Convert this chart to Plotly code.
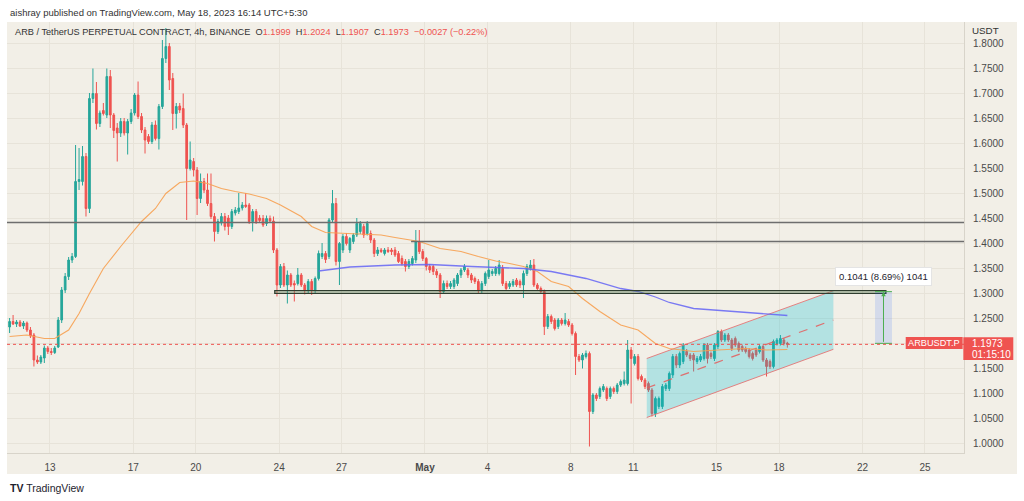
import pandas as pd
import plotly.graph_objects as go

# ---------------- DATA ----------------
last_candle = "2023-05-18 09:30"   # 4h candles, UTC+5:30

opens = [
    # Apr 11 - Apr 16
    1.232,1.243,1.238,1.242,1.234,1.240,1.226,1.216,1.166,1.162,1.170,1.190,1.183,1.181,1.192,1.246,1.306,1.333,1.366,1.373,
    1.523,1.523,1.573,1.469,1.689,1.699,1.639,1.665,1.656,1.733,1.656,1.630,1.620,1.643,1.620,1.643,1.660,
    # Apr 17 - Apr 22
    1.696,1.653,1.626,1.613,1.603,1.636,1.609,1.673,1.769,1.793,1.729,1.659,1.674,1.669,1.636,1.549,1.563,1.546,1.489,1.523,
    1.506,1.479,1.453,1.423,1.440,1.453,1.450,1.433,1.460,1.463,1.470,1.476,1.476,1.443,1.463,1.450,1.449,
    # Apr 23 - Apr 28
    1.439,1.449,1.444,1.386,1.316,1.353,1.316,1.336,1.319,1.319,1.336,1.316,1.306,1.323,1.306,1.329,1.373,1.379,1.373,1.446,
    1.479,1.363,1.386,1.413,1.386,1.403,1.416,1.423,1.433,1.419,1.419,1.406,1.379,1.386,1.379,1.386,1.386,
    # Apr 29 - May 5
    1.386,1.379,1.369,1.363,1.353,1.359,1.366,1.403,1.383,1.369,1.353,1.353,1.343,1.336,1.303,1.319,1.313,1.313,1.319,1.336,
    1.346,1.346,1.336,1.329,1.323,1.306,1.319,1.333,1.339,1.339,1.339,1.349,1.319,1.313,1.316,1.326,1.323,
    # May 5 - May 11
    1.316,1.339,1.349,1.356,1.316,1.309,1.303,1.233,1.253,1.246,1.233,1.246,1.239,1.243,1.236,1.219,1.173,1.166,1.173,1.179,
    1.063,1.096,1.093,1.106,1.109,1.093,1.109,1.103,1.116,1.119,1.119,1.186,1.159,1.173,1.133,1.126,1.119,
    # May 11 - May 18
    1.106,1.059,1.073,1.073,1.109,1.109,1.136,1.173,1.156,1.163,1.183,1.176,1.176,1.163,1.166,1.169,1.196,1.179,1.169,1.193,
    1.223,1.206,1.216,1.206,1.209,1.199,1.193,1.189,1.186,1.179,1.186,1.183,1.193,1.166,1.163,1.153,1.199,1.199,1.206,1.1999,
]
highs = [
    1.250,1.256,1.246,1.246,1.244,1.243,1.232,1.220,1.175,1.176,1.195,1.194,1.190,1.194,1.252,1.312,1.340,1.372,1.380,1.596,
    1.590,1.594,1.580,1.700,1.749,1.722,1.665,1.680,1.749,1.746,1.660,1.640,1.650,1.650,1.648,1.668,1.700,
    1.723,1.660,1.632,1.618,1.642,1.645,1.678,1.806,1.830,1.800,1.740,1.680,1.680,1.699,1.640,1.603,1.570,1.552,1.539,1.530,
    1.539,1.539,1.460,1.448,1.460,1.460,1.456,1.468,1.472,1.500,1.482,1.500,1.480,1.468,1.468,1.456,1.456,
    1.455,1.455,1.453,1.390,1.358,1.360,1.345,1.340,1.325,1.350,1.340,1.320,1.328,1.328,1.333,1.385,1.400,1.384,1.450,1.506,
    1.490,1.402,1.418,1.420,1.412,1.420,1.450,1.444,1.438,1.444,1.425,1.410,1.392,1.390,1.390,1.392,1.390,
    1.392,1.384,1.375,1.368,1.368,1.374,1.426,1.426,1.388,1.372,1.358,1.356,1.348,1.340,1.325,1.325,1.324,1.330,1.340,1.350,
    1.358,1.350,1.340,1.333,1.328,1.324,1.343,1.366,1.348,1.354,1.366,1.356,1.324,1.324,1.328,1.330,1.327,
    1.345,1.358,1.366,1.368,1.320,1.313,1.307,1.258,1.257,1.250,1.250,1.250,1.260,1.248,1.240,1.223,1.178,1.180,1.185,1.183,
    1.100,1.100,1.113,1.118,1.113,1.113,1.113,1.120,1.127,1.143,1.206,1.192,1.178,1.178,1.137,1.130,1.123,
    1.110,1.093,1.093,1.118,1.120,1.143,1.178,1.178,1.183,1.200,1.188,1.180,1.180,1.174,1.178,1.200,1.200,1.183,1.200,1.226,
    1.227,1.220,1.220,1.210,1.213,1.203,1.197,1.193,1.190,1.183,1.190,1.197,1.197,1.170,1.167,1.207,1.210,1.216,1.210,1.2024,
]
lows = [
    1.220,1.236,1.232,1.232,1.228,1.222,1.210,1.153,1.158,1.158,1.160,1.178,1.176,1.178,1.190,1.240,1.300,1.326,1.360,1.370,
    1.506,1.515,1.453,1.460,1.680,1.627,1.632,1.655,1.650,1.630,1.610,1.563,1.612,1.615,1.577,1.638,1.655,
    1.648,1.620,1.579,1.598,1.598,1.605,1.587,1.668,1.760,1.706,1.626,1.629,1.660,1.630,1.446,1.545,1.533,1.456,1.480,1.500,
    1.474,1.448,1.403,1.418,1.435,1.425,1.416,1.428,1.455,1.458,1.465,1.470,1.438,1.423,1.438,1.440,1.432,
    1.434,1.440,1.380,1.293,1.310,1.312,1.279,1.312,1.283,1.315,1.312,1.297,1.300,1.296,1.300,1.325,1.368,1.360,1.368,1.440,
    1.355,1.316,1.380,1.395,1.380,1.398,1.412,1.418,1.410,1.415,1.400,1.372,1.374,1.380,1.375,1.380,1.376,
    1.372,1.360,1.355,1.343,1.348,1.355,1.360,1.378,1.364,1.345,1.340,1.336,1.330,1.290,1.298,1.308,1.308,1.308,1.314,1.330,
    1.342,1.330,1.320,1.318,1.298,1.300,1.314,1.328,1.334,1.334,1.335,1.314,1.304,1.308,1.312,1.312,1.310,
    1.290,1.334,1.345,1.312,1.305,1.298,1.216,1.228,1.238,1.225,1.228,1.235,1.235,1.232,1.215,1.136,1.162,1.149,1.169,0.993,
    1.058,1.084,1.088,1.102,1.084,1.088,1.098,1.098,1.112,1.115,1.115,1.079,1.155,1.125,1.122,1.108,1.102,
    1.053,1.052,1.068,1.068,1.104,1.104,1.130,1.150,1.150,1.158,1.172,1.164,1.143,1.158,1.162,1.165,1.159,1.168,1.164,1.188,
    1.202,1.202,1.202,1.184,1.192,1.182,1.182,1.179,1.169,1.165,1.172,1.179,1.162,1.133,1.148,1.149,1.195,1.195,1.195,1.1907,
]
closes = [
    1.243,1.238,1.242,1.234,1.240,1.226,1.214,1.166,1.162,1.172,1.190,1.183,1.181,1.190,1.246,1.306,1.333,1.366,1.373,1.523,
    1.527,1.573,1.469,1.689,1.699,1.639,1.660,1.659,1.733,1.656,1.625,1.620,1.643,1.620,1.643,1.660,1.696,
    1.653,1.626,1.606,1.603,1.636,1.609,1.673,1.769,1.793,1.726,1.659,1.673,1.666,1.636,1.549,1.566,1.546,1.489,1.523,1.506,
    1.479,1.453,1.423,1.443,1.453,1.433,1.433,1.463,1.466,1.470,1.476,1.473,1.443,1.463,1.443,1.445,1.436,
    1.449,1.444,1.386,1.316,1.353,1.316,1.336,1.316,1.316,1.336,1.316,1.306,1.323,1.306,1.329,1.379,1.379,1.367,1.446,1.479,
    1.363,1.399,1.413,1.399,1.409,1.416,1.439,1.439,1.416,1.439,1.406,1.379,1.386,1.383,1.386,1.383,1.383,
    1.376,1.363,1.359,1.353,1.363,1.369,1.403,1.383,1.369,1.353,1.346,1.343,1.336,1.303,1.319,1.313,1.319,1.326,1.336,1.346,
    1.353,1.336,1.326,1.323,1.306,1.319,1.339,1.346,1.343,1.349,1.356,1.319,1.309,1.319,1.323,1.316,1.316,
    1.339,1.353,1.356,1.316,1.309,1.303,1.233,1.253,1.243,1.229,1.246,1.239,1.246,1.236,1.219,1.173,1.166,1.176,1.179,1.063,
    1.096,1.089,1.109,1.113,1.089,1.109,1.103,1.116,1.123,1.126,1.186,1.169,1.173,1.129,1.126,1.113,1.106,
    1.059,1.089,1.089,1.113,1.116,1.139,1.173,1.156,1.179,1.196,1.176,1.169,1.166,1.169,1.173,1.196,1.169,1.173,1.196,1.223,
    1.206,1.216,1.206,1.189,1.196,1.186,1.186,1.183,1.173,1.169,1.176,1.193,1.166,1.153,1.153,1.203,1.206,1.209,1.199,1.1973,
]

# moving averages, read at candle indices
ma_orange_idx = [0,5,10,13,17,20,23,27,32,36,38,42,45,49,53,57,61,65,69,74,78,84,87,91,97,101,107,111,118,124,
                 130,135,140,144,148,152,156,161,165,170,176,181,186,190,197,204,212,218,224]
ma_orange_val = [1.213,1.216,1.209,1.209,1.226,1.259,1.299,1.349,1.393,1.426,1.443,1.469,1.499,1.521,1.524,1.519,
                 1.509,1.503,1.498,1.489,1.476,1.453,1.433,1.421,1.419,1.419,1.416,1.411,1.403,1.389,1.383,1.373,
                 1.364,1.359,1.353,1.343,1.323,1.313,1.289,1.263,1.236,1.226,1.199,1.189,1.183,1.186,1.189,1.186,1.187]
ma_blue_idx = [89,98,111,121,133,148,156,166,176,181,186,190,197,207,217,224]
ma_blue_val = [1.344,1.352,1.356,1.357,1.353,1.349,1.343,1.329,1.309,1.303,1.292,1.281,1.269,1.264,1.259,1.255]

# drawings
hline_levels = [1.441, 1.403]
hline_starts = ["2023-04-10 22:30", "2023-04-30 08:00"]
zone_x = ["2023-04-23 19:00", "2023-05-23 03:00"]
zone_y = [1.2994, 1.3046]
channel_x = ["2023-05-11 15:30", "2023-05-20 14:30"]
channel_top = [1.169, 1.3046]
channel_bot = [1.051, 1.1874]
measure_x = ["2023-05-22 14:30", "2023-05-23 10:00"]
measure_y = [1.1993, 1.3027]
measure_text = "0.1041 (8.69%) 1041"
last_price = 1.1973
countdown = "01:15:10"
symbol = "ARBUSDT.P"

x_range = ["2023-04-10 22:30", "2023-05-26 21:00"]
x_tick_dates = ["2023-04-13", "2023-04-17", "2023-04-20", "2023-04-24", "2023-04-27", "2023-05-01",
                "2023-05-04", "2023-05-08", "2023-05-11", "2023-05-15", "2023-05-18", "2023-05-22", "2023-05-25"]
x_tick_text = ["13", "17", "20", "24", "27", "<b>May</b>", "4", "8", "11", "15", "18", "22", "25"]
y_ticks = [1.00, 1.05, 1.10, 1.15, 1.20, 1.25, 1.30, 1.35, 1.40, 1.45, 1.50, 1.55, 1.60, 1.65, 1.70, 1.75, 1.80]

# ---------------- STYLE ----------------
BEIGE = "#f2efe7"
GRID = "#e7e3d9"
GREEN = "#26a69a"
RED = "#ef5350"
FONT = "Liberation Sans, Arial, sans-serif"
TXT = "#4a4a4a"

n = len(closes)
if not (len(opens) == len(highs) == len(lows) == n):
    raise ValueError(f"length mismatch {len(opens)} {len(highs)} {len(lows)} {n}")
times = pd.date_range(end=last_candle, periods=n, freq="4h")

fig = go.Figure()

# channel fill + borders + dashed midline
fig.add_trace(go.Scatter(
    x=[channel_x[0], channel_x[1], channel_x[1], channel_x[0], channel_x[0]],
    y=[channel_top[0], channel_top[1], channel_bot[1], channel_bot[0], channel_top[0]],
    fill="toself", fillcolor="rgba(0,188,212,0.26)", line=dict(width=0),
    mode="lines", hoverinfo="skip"))
for yy in (channel_top, channel_bot):
    fig.add_trace(go.Scatter(x=channel_x, y=yy, mode="lines",
                             line=dict(color="rgba(229,110,110,0.85)", width=1), hoverinfo="skip"))
fig.add_trace(go.Scatter(x=channel_x,
                         y=[(channel_top[0] + channel_bot[0]) / 2, (channel_top[1] + channel_bot[1]) / 2],
                         mode="lines", line=dict(color="rgba(229,90,90,0.85)", width=1.2, dash="dash"),
                         hoverinfo="skip"))

fig.add_trace(go.Candlestick(
    x=times, open=opens, high=highs, low=lows, close=closes,
    increasing=dict(line=dict(color=GREEN, width=1), fillcolor=GREEN),
    decreasing=dict(line=dict(color=RED, width=1), fillcolor=RED),
    whiskerwidth=0, hoverinfo="skip"))

fig.add_trace(go.Scatter(x=[times[i] for i in ma_orange_idx], y=ma_orange_val, mode="lines",
                         line=dict(color="rgba(247,160,80,0.9)", width=1.1), hoverinfo="skip"))
fig.add_trace(go.Scatter(x=[times[i] for i in ma_blue_idx], y=ma_blue_val, mode="lines",
                         line=dict(color="rgba(100,100,245,0.85)", width=1.3), hoverinfo="skip"))

shapes = []
# beige chart panel incl. axis strips
shapes.append(dict(type="rect", xref="paper", yref="paper", x0=0, x1=1.0554, y0=-0.0487, y1=1.0,
                   fillcolor=BEIGE, line=dict(width=0), layer="below"))
for lvl, st in zip(hline_levels, hline_starts):
    shapes.append(dict(type="line", xref="x", yref="y", x0=st, x1=x_range[1], y0=lvl, y1=lvl,
                       line=dict(color="#6e6e6e", width=1.6)))
shapes.append(dict(type="rect", xref="x", yref="y", x0=zone_x[0], x1=zone_x[1], y0=zone_y[0], y1=zone_y[1],
                   fillcolor="rgba(120,170,110,0.25)", line=dict(color="#2f3d2f", width=1.3)))
shapes.append(dict(type="rect", xref="x", yref="y", x0=measure_x[0], x1=measure_x[1],
                   y0=measure_y[0], y1=measure_y[1], fillcolor="rgba(41,98,255,0.15)", line=dict(width=0)))
for yy in measure_y:
    shapes.append(dict(type="line", xref="x", yref="y", x0=measure_x[0], x1=measure_x[1], y0=yy, y1=yy,
                       line=dict(color="#4caf50", width=1)))
shapes.append(dict(type="line", xref="paper", yref="y", x0=0, x1=1, y0=last_price, y1=last_price,
                   line=dict(color=RED, width=1, dash="dot")))
# red label backgrounds (symbol tag and price tag on the axis)
shapes.append(dict(type="rect", xref="paper", yref="y", x0=0.9391, x1=0.9986, y0=1.188, y1=1.212,
                   fillcolor=RED, line=dict(width=0), layer="above"))
shapes.append(dict(type="rect", xref="paper", yref="y", x0=0.9993, x1=1.0515, y0=1.166, y1=1.2114,
                   fillcolor=RED, line=dict(width=0), layer="above"))

mid_measure = pd.Timestamp(measure_x[0]) + (pd.Timestamp(measure_x[1]) - pd.Timestamp(measure_x[0])) / 2

annotations = [
    dict(xref="paper", yref="paper", x=0.001, y=1.0232, xanchor="left", yanchor="middle", showarrow=False,
         text="aishray published on TradingView.com, May 18, 2023 16:14 UTC+5:30",
         font=dict(family=FONT, size=9.5, color="#333333")),
    dict(xref="paper", yref="paper", x=0.0063, y=0.9768, xanchor="left", yanchor="middle", showarrow=False,
         text=("ARB / TetherUS PERPETUAL CONTRACT, 4h, BINANCE  "
               f"O<span style='color:{RED}'>1.1999</span>  H<span style='color:{RED}'>1.2024</span>  "
               f"L<span style='color:{RED}'>1.1907</span>  C<span style='color:{RED}'>1.1973</span>  "
               f"<span style='color:{RED}'>−0.0027 (−0.22%)</span>"),
         font=dict(family=FONT, size=9.2, color="#333333")),
    dict(xref="paper", yref="paper", x=1.0063, y=0.981, xanchor="left", yanchor="middle", showarrow=False,
         text="USDT", font=dict(family=FONT, size=9.8, color="#333333")),
    dict(xref="x", yref="y", x=mid_measure, y=measure_y[1], ax=mid_measure, ay=measure_y[0],
         axref="x", ayref="y", showarrow=True, arrowhead=2, arrowsize=0.9, arrowwidth=1,
         arrowcolor="#4caf50", text=""),
    dict(xref="x", yref="y", x=mid_measure, y=1.334, showarrow=False, text=measure_text,
         bgcolor="white", bordercolor="#e4e4e4", borderwidth=1, borderpad=3,
         font=dict(family=FONT, size=9.5, color="#1e222d")),
    dict(xref="paper", yref="y", x=0.9689, y=1.2, xanchor="center", yanchor="middle", showarrow=False,
         text=symbol, font=dict(family=FONT, size=9.2, color="white")),
    dict(xref="paper", yref="y", x=1.0063, y=1.1994, xanchor="left", yanchor="middle", showarrow=False,
         text=f"{last_price:.4f}", font=dict(family=FONT, size=10, color="white")),
    dict(xref="paper", yref="y", x=1.0063, y=1.178, xanchor="left", yanchor="middle", showarrow=False,
         text=countdown, font=dict(family=FONT, size=10, color="white")),
    dict(xref="paper", yref="paper", x=0.001, y=-0.081, xanchor="left", yanchor="middle", showarrow=False,
         text="<b>TV</b> TradingView", font=dict(family=FONT, size=10.5, color="#1e222d")),
]

fig.update_layout(
    width=1024, height=501,
    margin=dict(l=7, r=60, t=22, b=48),
    paper_bgcolor="white", plot_bgcolor=BEIGE,
    showlegend=False, hovermode=False,
    shapes=shapes, annotations=annotations,
    xaxis=dict(type="date", range=x_range, tickvals=x_tick_dates, ticktext=x_tick_text,
               showgrid=True, gridcolor=GRID, gridwidth=1, zeroline=False,
               showline=True, linecolor="#d8d4ca", linewidth=1, ticks="", ticklabelstandoff=5,
               tickfont=dict(family=FONT, size=10, color=TXT),
               rangeslider=dict(visible=False), fixedrange=True),
    yaxis=dict(side="right", range=[0.98, 1.842], tickvals=y_ticks,
               ticktext=[f"{v:.4f}" for v in y_ticks],
               showgrid=True, gridcolor=GRID, gridwidth=1, zeroline=False,
               showline=True, linecolor="#d8d4ca", linewidth=1, ticks="", ticklabelstandoff=6,
               tickfont=dict(family=FONT, size=10, color=TXT), fixedrange=True),
)

fig.write_html("out.html", config={"displayModeBar": False},
               post_script="document.body.style.margin='0';document.body.style.padding='0';")
